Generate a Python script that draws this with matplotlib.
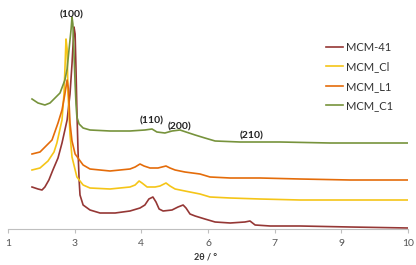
import matplotlib
matplotlib.use("Agg")
import matplotlib.pyplot as plt

# small-angle XRD patterns, intensity in a.u.
tt_mcm41 = [1.54, 1.675, 1.765, 1.83, 1.92, 2.01, 2.125, 2.215, 2.33, 2.395, 2.44, 2.485, 2.51, 2.53, 2.55,
            2.575, 2.6, 2.62, 2.69, 2.845, 3.07, 3.41, 3.745, 3.97, 4.08, 4.17, 4.26, 4.33, 4.40,
            4.49, 4.69, 4.825, 4.94, 5.005, 5.095, 5.21, 5.43, 5.66, 6.0, 6.33, 6.445, 6.56, 6.9, 7.57,
            8.695, 10.0]
i_mcm41 = [42, 40, 39, 42, 49, 59, 71, 86, 109, 135, 165, 202, 195, 160, 119,
           79, 49, 34, 24, 19, 16, 16, 18, 21, 24, 30, 32, 27, 20,
           18, 19, 22, 24, 21, 15, 13, 10, 7, 6, 7, 8, 4, 3, 3,
           2, 1]

tt_cl = [1.54, 1.72, 1.9, 2.035, 2.1, 2.215, 2.26, 2.285, 2.305, 2.33, 2.35, 2.395, 2.44, 2.55,
         2.69, 2.845, 3.295, 3.745, 3.86, 3.95, 4.015, 4.13, 4.31, 4.42, 4.555, 4.645, 4.76,
         4.98, 5.32, 5.545, 6.0, 6.67, 7.57, 8.695, 10.0]
i_cl = [59, 61, 68, 77, 86, 109, 135, 165, 190, 180, 136, 95, 72, 52,
        44, 41, 40, 42, 44, 48, 46, 42, 42, 43, 46, 43, 40,
        38, 35, 32, 31, 30, 29, 29, 29]

tt_l1 = [1.54, 1.72, 1.99, 2.125, 2.215, 2.28, 2.33, 2.36, 2.395, 2.44, 2.51, 2.69,
         2.845, 3.295, 3.745, 3.86, 3.97, 4.06, 4.195, 4.375, 4.555, 4.645, 4.76, 4.98, 5.32, 5.545,
         6.0, 6.67, 7.57, 8.695, 10.0]
i_l1 = [75, 77, 89, 106, 119, 135, 149, 140, 106, 88, 75, 64,
        60, 58, 60, 62, 65, 63, 61, 61, 63, 61, 59, 57, 55, 52,
        51, 51, 50, 49, 49]

tt_c1 = [1.54, 1.675, 1.83, 1.945, 2.17, 2.28, 2.33, 2.37, 2.42, 2.44, 2.46, 2.485, 2.51, 2.53,
         2.55, 2.6, 2.69, 2.845, 3.295, 3.745, 4.08, 4.24, 4.35, 4.53, 4.69, 4.87, 5.005, 5.21, 5.43,
         5.66, 6.22, 7.12, 8.245, 10.0]
i_c1 = [130, 126, 124, 126, 136, 149, 160, 178, 200, 212, 205, 175, 145, 125,
        112, 105, 101, 99, 98, 98, 99, 100, 97, 96, 98, 99, 97, 94, 91,
        88, 87, 87, 86, 86]

series = [
    ("MCM-41", tt_mcm41, i_mcm41, "#953735"),
    ("MCM_Cl", tt_cl, i_cl, "#F5C518"),
    ("MCM_L1", tt_l1, i_l1, "#E46C0A"),
    ("MCM_C1", tt_c1, i_c1, "#77933C"),
]

tick_pos = [1, 2.5, 4, 5.5, 7, 8.5, 10]
tick_lbl = ["1", "3", "4", "6", "7", "9", "10"]

peaks = [("(100)", 2.44, 214), ("(110)", 4.24, 108), ("(200)", 4.87, 102), ("(210)", 6.49, 93)]

plt.rcParams["font.family"] = ["Lato", "DejaVu Sans"]

fig = plt.figure(figsize=(4.16, 2.65), dpi=100)
ax = fig.add_axes([8 / 416, 36 / 265, 400 / 416, 224 / 265])

for name, tt, inten, col in series:
    ax.plot(tt, inten, color=col, lw=1.2, label=name)

for txt, x, y in peaks:
    ax.text(x, y, txt, ha="center", va="center", fontsize=7.5, fontweight="bold", color="#222222")

ax.set_xlim(1, 10)
ax.set_ylim(0, 224)
ax.set_xticks(tick_pos)
ax.set_xticklabels(tick_lbl, fontsize=7.5, color="#555555")
ax.set_yticks([])
ax.tick_params(axis="x", length=3, color="#BFBFBF", pad=4)
for s in ["top", "right", "left"]:
    ax.spines[s].set_visible(False)
ax.spines["bottom"].set_color("#BFBFBF")
ax.patch.set_visible(False)

fig.text(205 / 416, 1 - 257 / 265, "2θ / °", ha="center", va="center",
         fontsize=6.5, fontweight="bold", color="#333333")

leg = fig.legend(loc="upper left", bbox_to_anchor=(316 / 416, 1 - 32 / 265), frameon=False,
                 fontsize=8, handlelength=1.5, handletextpad=0.3, labelspacing=0.75)
for t in leg.get_texts():
    t.set_color("#333333")

fig.savefig("out.png", dpi=100)
